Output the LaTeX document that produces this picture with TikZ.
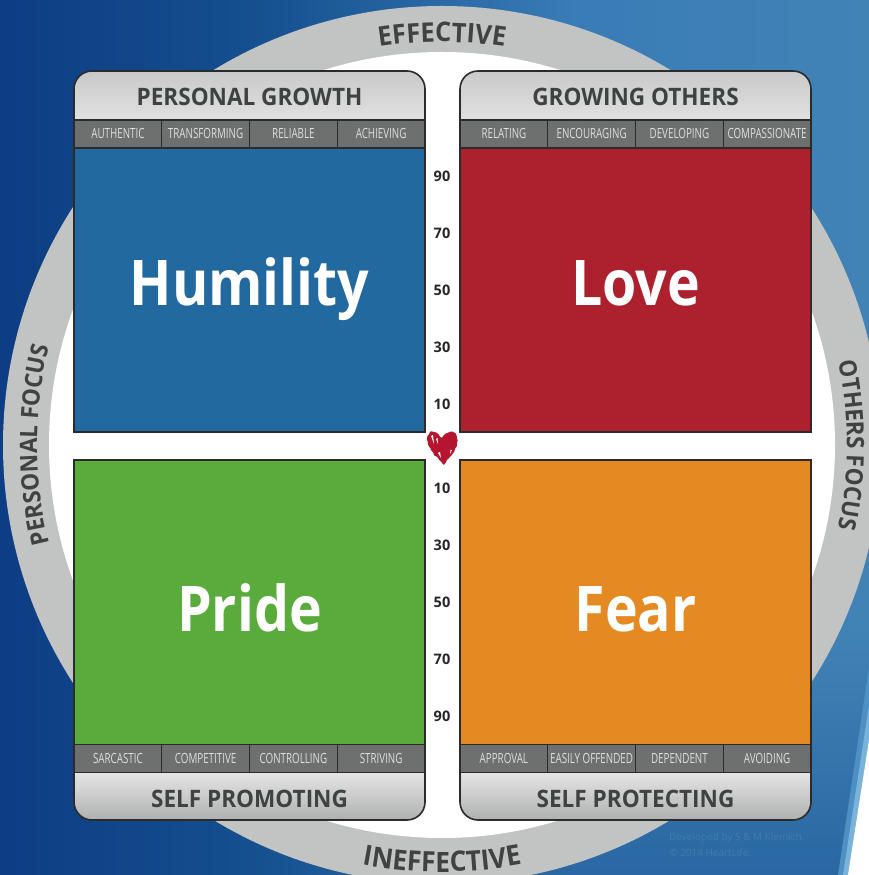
\documentclass[tikz,border=0pt]{standalone}
\usepackage{fontspec}
\setmainfont{Open Sans}
\newfontfamily\condfont[FakeStretch=0.70]{Open Sans}
\newfontfamily\semifont[FakeStretch=0.94]{Open Sans}
\newfontfamily\bigfont[FakeStretch=0.88]{Open Sans}
\usetikzlibrary{decorations.text,decorations.pathmorphing,shadings}
\definecolor{ringgray}{HTML}{C2C3C3}
\definecolor{ringtext}{HTML}{404242}
\definecolor{edgedark}{HTML}{2B2B2B}
\definecolor{tagfill}{HTML}{6E6F6F}
\definecolor{tagtext}{HTML}{DEDEDE}
\definecolor{bgA}{HTML}{0D3D84}
\definecolor{bgB}{HTML}{15508F}
\definecolor{bgC}{HTML}{397CB6}
\definecolor{bgD}{HTML}{4283B6}
\definecolor{bgLow}{HTML}{2A67A3}
\definecolor{streakA}{HTML}{4E90C3}
\definecolor{streakB}{HTML}{7AB3D9}
\definecolor{humblue}{HTML}{21699E}
\definecolor{lovered}{HTML}{AD202D}
\definecolor{pridegreen}{HTML}{59AC3B}
\definecolor{fearorange}{HTML}{E58A22}
\definecolor{heartred}{HTML}{B5152F}
\definecolor{credit}{HTML}{447AA8}
\pgfdeclarehorizontalshading{bgrow}{100bp}{color(0bp)=(bgA);color(25bp)=(bgA);color(40bp)=(bgB);color(58bp)=(bgC);color(75bp)=(bgD);color(100bp)=(bgD)}
\tikzset{
  x=1pt,y=1pt,
  quad/.style={draw=edgedark,line width=1.6pt,minimum width=351pt,minimum height=285pt,inner sep=0pt,text=white,
    font=\fontsize{63}{63}\selectfont\bigfont\bfseries},
  tagbox/.style={draw=edgedark,line width=1.3pt,fill=tagfill,text=tagtext,minimum width=87.75pt,minimum height=27.5pt,inner sep=0pt,
    text height=10pt,text depth=0pt,font=\fontsize{14}{14}\selectfont\condfont},
  headtext/.style={text=ringtext,font=\fontsize{24}{24}\selectfont\semifont\bfseries,inner sep=0pt},
  numlabel/.style={text=black!85,font=\fontsize{14.5}{14.5}\selectfont\bfseries,inner sep=0pt},
  captop/.style={draw=edgedark,line width=1.6pt,top color=ringgray!90!white,bottom color=black!12},
  capbottom/.style={draw=edgedark,line width=1.6pt,top color=black!10,bottom color=ringgray!90!black},
  ringlabel/.style n args={2}{decorate,decoration={text along path,text align=center,
     text={|\color{ringtext}\fontsize{#1}{#1}\selectfont\semifont\bfseries|#2}}},
  creditline/.style={text=credit,font=\fontsize{10}{10}\selectfont,inner sep=0pt,anchor=west}
}
\begin{document}
\begin{tikzpicture}
\useasboundingbox (0,0) rectangle (869,875);
\begin{scope}
\clip (0,0) rectangle (869,875);
% background
\shade[shading=bgrow] (0,0) rectangle (869,875);
\shade[top color=bgD,bottom color=bgLow] (525,0) rectangle (869,250);
\fill[streakA] (838,0) -- (869,208) -- (869,0) -- cycle;
\fill[streakB] (843,0) -- (869,170) -- (869,0) -- cycle;
\fill[white] (848,0) -- (869,135) -- (869,0) -- cycle;
% ring
\fill[ringgray] (442,430) circle[radius=439];
\fill[white] (442,430) circle[radius=393];
\end{scope}
% ring labels
\path[ringlabel={27}{EFFECTIVE}] (442,430) ++(130:403) arc[start angle=130,end angle=50,radius=403];
\path[ringlabel={28}{INEFFECTIVE}] (442,430) ++(240:427) arc[start angle=240,end angle=300,radius=427];
\path[ringlabel={24}{PERSONAL FOCUS}] (442,430) ++(215:405) arc[start angle=215,end angle=145,radius=405];
\path[ringlabel={24}{OTHERS FOCUS}] (442,430) ++(35:405) arc[start angle=35,end angle=-35,radius=405];
% credit
\node[creditline] (credit1) at (669,37) {Developed by S \& M Klemich.};
\node[creditline] (credit2) at (669,22) {© 2014 HeartLife.};
% caps
\path[captop] (74,755) -- (74,786) arc[start angle=180,end angle=90,radius=18] -- (407,804) arc[start angle=90,end angle=0,radius=18] -- (425,755) -- cycle;
\path[captop] (460,755) -- (460,786) arc[start angle=180,end angle=90,radius=18] -- (793,804) arc[start angle=90,end angle=0,radius=18] -- (811,755) -- cycle;
\path[capbottom] (74,103) -- (74,73) arc[start angle=180,end angle=270,radius=18] -- (407,55) arc[start angle=270,end angle=360,radius=18] -- (425,103) -- cycle;
\path[capbottom] (460,103) -- (460,73) arc[start angle=180,end angle=270,radius=18] -- (793,55) arc[start angle=270,end angle=360,radius=18] -- (811,103) -- cycle;
\node[headtext] (hPG) at (249.5,778) {PERSONAL GROWTH};
\node[headtext] (hGO) at (635.5,778) {GROWING OTHERS};
\node[headtext] (hSPm) at (249.5,76.5) {SELF PROMOTING};
\node[headtext] (hSPt) at (635.5,76.5) {SELF PROTECTING};
% quadrants
\node[quad,minimum height=284pt,fill=humblue,text height=40pt,text depth=8pt] (humility) at (249.5,585) {Humility};
\node[quad,minimum height=284pt,fill=lovered,text height=40pt,text depth=8pt] (love) at (635.5,585) {Love};
\node[quad,fill=pridegreen,text height=60pt,text depth=1pt] (pride) at (249.5,272.5) {Pride};
\node[quad,fill=fearorange,text height=60pt,text depth=1pt] (fear) at (635.5,272.5) {Fear};
% tags
\node[tagbox] (t1) at (117.9,741) {AUTHENTIC};
\node[tagbox] (t2) at (205.6,741) {TRANSFORMING};
\node[tagbox] (t3) at (293.4,741) {RELIABLE};
\node[tagbox] (t4) at (381.1,741) {ACHIEVING};
\node[tagbox] (t5) at (503.9,741) {RELATING};
\node[tagbox] (t6) at (591.6,741) {ENCOURAGING};
\node[tagbox] (t7) at (679.4,741) {DEVELOPING};
\node[tagbox] (t8) at (767.1,741) {COMPASSIONATE};
\node[tagbox] (b1) at (117.9,116.5) {SARCASTIC};
\node[tagbox] (b2) at (205.6,116.5) {COMPETITIVE};
\node[tagbox] (b3) at (293.4,116.5) {CONTROLLING};
\node[tagbox] (b4) at (381.1,116.5) {STRIVING};
\node[tagbox] (b5) at (503.9,116.5) {APPROVAL};
\node[tagbox] (b6) at (591.6,116.5) {EASILY OFFENDED};
\node[tagbox] (b7) at (679.4,116.5) {DEPENDENT};
\node[tagbox] (b8) at (767.1,116.5) {AVOIDING};
% numbers
\node[numlabel] (n1) at (442,699) {90};
\node[numlabel] (n2) at (442,642) {70};
\node[numlabel] (n3) at (442,585) {50};
\node[numlabel] (n4) at (442,528) {30};
\node[numlabel] (n5) at (442,471) {10};
\node[numlabel] (n6) at (442,387) {10};
\node[numlabel] (n7) at (442,330) {30};
\node[numlabel] (n8) at (442,273) {50};
\node[numlabel] (n9) at (442,216) {70};
\node[numlabel] (n10) at (442,159) {90};
% heart
\fill[heartred,decorate,decoration={random steps,segment length=2.2pt,amplitude=0.8pt}]
  (444,410) .. controls (436,418) and (426,428) .. (427,437)
  .. controls (428,445) and (437,445) .. (441,437)
  .. controls (446,443) and (456,447) .. (457,436)
  .. controls (458,426) and (450,420) .. (444,410) -- cycle;
\fill[white] (431,439) -- (434,431) -- (433,440) -- cycle;
\fill[white] (436,436) -- (438,431) -- (437.5,437) -- cycle;
\fill[white] (438,422) -- (441,417) -- (440,423) -- cycle;
\fill[white] (450,421) -- (452,425) -- (450.5,425) -- cycle;
\end{tikzpicture}
\end{document}
